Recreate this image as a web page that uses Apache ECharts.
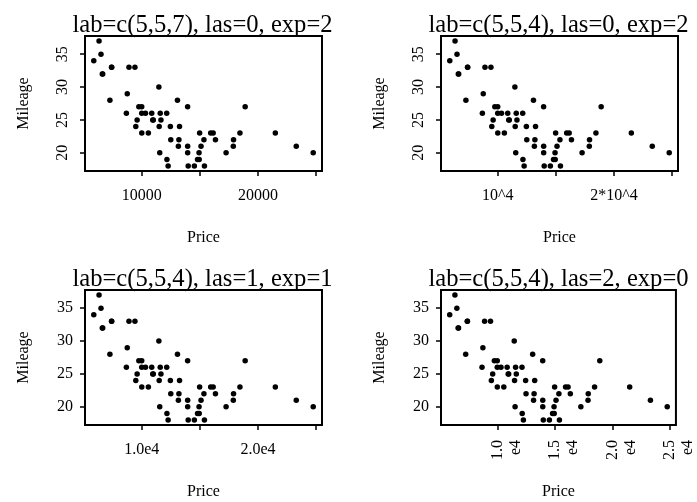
<!DOCTYPE html>
<html>
<head>
<meta charset="utf-8">
<script src="https://cdn.jsdelivr.net/npm/echarts@6/dist/echarts.min.js"></script>
<style>html,body{margin:0;padding:0;background:#fff}#c{width:697px;height:502px}</style>
</head>
<body>
<div id="c"></div>
<script>
// car.test.frame: Price vs Mileage
const price = [8895,7402,6319,6635,6599,8672,7399,7254,9599,5866,8748,6488,9995,11545,9745,12164,11470,9410,13945,13249,10855,13071,18900,10565,10320,10945,9483,12145,12459,10989,17879,11650,9995,15930,11499,11588,18450,24760,13150,12495,16342,15350,13195,14980,9999,23300,17899,13949,15099,21498,16145,14525,17257,13995,15395,12267,14944,14929,13949,14799];
const mileage = [33,33,37,32,32,26,33,28,25,34,29,35,26,20,27,19,30,33,27,24,26,28,27,23,26,25,24,26,24,25,21,25,27,23,24,26,23,20,21,22,22,22,22,23,23,21,22,21,21,23,23,18,20,18,18,18,19,20,20,19];

const titles = ["lab=c(5,5,7), las=0, exp=2","lab=c(5,5,4), las=0, exp=2","lab=c(5,5,4), las=1, exp=1","lab=c(5,5,4), las=2, exp=0"];
const xTicks = [10000,15000,20000,25000];
const xLabelValsA = [10000,20000];
const xLabelsP1 = ["10000","20000"];
const xLabelsP2 = ["10^4","2*10^4"];
const xLabelsP3 = ["1.0e4","2.0e4"];
const xLabelsP4 = ["\n1.0\ne4","\n1.5\ne4","\n2.0\ne4","\n2.5\ne4"];
const yTicks = [20,25,30,35];
const xName = "Price", yName = "Mileage";

function ext(arr){const mn=Math.min(...arr),mx=Math.max(...arr),d=(mx-mn)*0.04;return [mn-d,mx+d];}
const xr = ext(price), yr = ext(mileage);
const pts = price.map((p,i)=>[p,mileage[i]]);

const FONT = "Liberation Serif";
const grids = [
  {left:85,top:36,width:237,height:135},
  {left:441,top:36,width:237,height:135},
  {left:85,top:290,width:237,height:135},
  {left:441,top:290,width:237,height:135}
];
const xLabelSets = [
  {vals:xLabelValsA,texts:xLabelsP1},
  {vals:xLabelValsA,texts:xLabelsP2},
  {vals:xLabelValsA,texts:xLabelsP3},
  {vals:xTicks,texts:xLabelsP4}
];
const opt = {animation:false,backgroundColor:'#fff',title:[],grid:[],xAxis:[],yAxis:[],series:[]};
grids.forEach((g,i)=>{
  opt.grid.push(Object.assign({show:true,borderColor:'#000',borderWidth:2,backgroundColor:'transparent'},g));
  opt.title.push({text:titles[i],left:g.left+g.width/2-6,top:g.top-28,textAlign:'center',
    textStyle:{fontFamily:FONT,fontSize:24.6,fontWeight:'normal',color:'#000'}});
  const ls = xLabelSets[i];
  const xl = {show:true,customValues:ls.vals,fontFamily:FONT,fontSize:16,color:'#000',margin:17,
    formatter:(v)=>{const k=ls.vals.indexOf(v);return k>=0?ls.texts[k]:'';}};
  if(i===3){Object.assign(xl,{rotate:90,lineHeight:18,margin:15,padding:[0,0,0,0]});}
  opt.xAxis.push({type:'value',gridIndex:i,min:xr[0],max:xr[1],
    name:xName,nameLocation:'middle',nameGap:59,nameTextStyle:{fontFamily:FONT,fontSize:16,color:'#000'},
    axisLine:{show:false},splitLine:{show:false},
    axisTick:{show:true,customValues:xTicks,length:5,inside:false,lineStyle:{color:'#000',width:1.5}},
    axisLabel:xl});
  const yl = {show:true,customValues:yTicks,fontFamily:FONT,fontSize:16,color:'#000',margin:12};
  if(i<2){Object.assign(yl,{rotate:90,margin:14});}
  opt.yAxis.push({type:'value',gridIndex:i,min:yr[0],max:yr[1],
    name:yName,nameLocation:'middle',nameGap:53,nameTextStyle:{fontFamily:FONT,fontSize:16,color:'#000'},
    axisLine:{show:false},splitLine:{show:false},
    axisTick:{show:true,customValues:yTicks,length:5,inside:false,lineStyle:{color:'#000',width:1.5}},
    axisLabel:yl});
  opt.series.push({type:'scatter',xAxisIndex:i,yAxisIndex:i,data:pts,symbol:'circle',symbolSize:5.5,
    itemStyle:{color:'#000',opacity:1},silent:true});
});
const chart = echarts.init(document.getElementById('c'),null,{renderer:'canvas'});
chart.setOption(opt);
</script>
</body>
</html>
